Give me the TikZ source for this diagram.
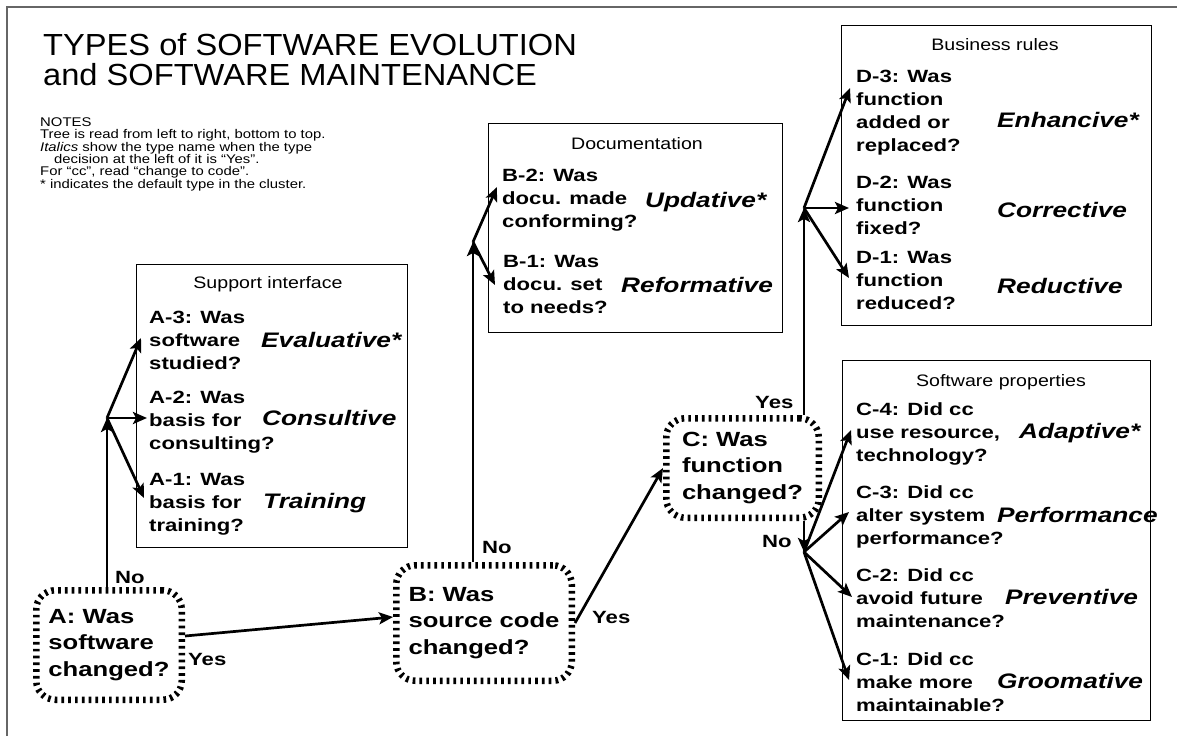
\documentclass[tikz,border=0pt]{standalone}
\usepackage{fontspec}
\setmainfont{Liberation Sans}
\newfontfamily\titlefont[FakeStretch=1.07]{Liberation Sans}
\newfontfamily\regfont[FakeStretch=1.18]{Liberation Sans}
\newfontfamily\boldfont[FakeStretch=1.25]{Liberation Sans}
\usetikzlibrary{arrows.meta,calc}
\tikzset{
  frameline/.style={line width=1.5pt, draw=black!60},
  titletext/.style={anchor=base west, align=left, inner sep=0pt, font=\titlefont\fontsize{30.5}{30}\selectfont},
  notetext/.style={anchor=base west, align=left, inner sep=0pt, font=\regfont\fontsize{12.6}{11.4}\selectfont},
  cluster/.style={draw, line width=1.3pt, anchor=north west, inner sep=0pt},
  clustertitle/.style={anchor=base, inner sep=0pt, font=\regfont\fontsize{16.6}{20}\selectfont},
  question/.style={anchor=base west, align=left, inner sep=0pt, font=\boldfont\bfseries\fontsize{17.7}{23.3}\selectfont},
  typename/.style={anchor=base west, inner sep=0pt, font=\boldfont\bfseries\itshape\fontsize{21}{25}\selectfont},
  decision/.style={draw, rounded corners=19pt, line width=6.5pt, dash pattern=on 2.7pt off 4.1pt, align=left, inner sep=0pt, font=\boldfont\bfseries\fontsize{20.5}{26.5}\selectfont},
  answer/.style={anchor=base west, inner sep=0pt, font=\boldfont\bfseries\fontsize{17.7}{20}\selectfont},
  arr/.style={line width=2.7pt, -{Stealth[length=14pt,width=12pt,inset=3pt]}},
}
\begin{document}
\begin{tikzpicture}[x=1pt,y=-1pt]
\useasboundingbox (0,0) rectangle (1177,736);
\coordinate (fb) at (7,736);
\coordinate (fc) at (7,7);
\coordinate (fr) at (1177,7);
\draw[frameline] (fb) -- (fc) -- (fr);

% multi-line nodes are placed by the baseline of their LAST line
\node[titletext] (title) at (43,85) {TYPES of SOFTWARE EVOLUTION\\and SOFTWARE MAINTENANCE};
\node[notetext] (notes) at (40,188) {NOTES\\
Tree is read from left to right, bottom to top.\\
\textit{Italics} show the type name when the type\\
\hspace*{14pt}decision at the left of it is “Yes”.\\
For “cc”, read “change to code”.\\
* indicates the default type in the cluster.};

% clusters
\node[cluster, minimum width=271pt, minimum height=283pt] (sup) at (136,264) {};
\node[clustertitle] (supT) at (268,288) {Support interface};
\node[cluster, minimum width=294pt, minimum height=209pt] (doc) at (488,123) {};
\node[clustertitle] (docT) at (637,149) {Documentation};
\node[cluster, minimum width=310pt, minimum height=300pt] (bus) at (841,25) {};
\node[clustertitle] (busT) at (995,50) {Business rules};
\node[cluster, minimum width=308pt, minimum height=360pt] (prop) at (842,360) {};
\node[clustertitle] (propT) at (1001,386) {Software properties};

% questions
\node[question] (a3) at (149,369.6) {A-3: Was\\software\\studied?};
\node[question] (a2) at (149,449.6) {A-2: Was\\basis for\\consulting?};
\node[question] (a1) at (149,531.6) {A-1: Was\\basis for\\training?};
\node[question] (b2) at (502,227.6) {B-2: Was\\docu. made\\conforming?};
\node[question] (b1) at (503,313.6) {B-1: Was\\docu. set\\to needs?};
\node[question] (d3) at (856,151.9) {D-3: Was\\function\\added or\\replaced?};
\node[question] (d2) at (856,234.6) {D-2: Was\\function\\fixed?};
\node[question] (d1) at (856,309.6) {D-1: Was\\function\\reduced?};
\node[question] (c4) at (856,461.6) {C-4: Did cc\\use resource,\\technology?};
\node[question] (c3) at (856,544.6) {C-3: Did cc\\alter system\\performance?};
\node[question] (c2) at (856,627.6) {C-2: Did cc\\avoid future\\maintenance?};
\node[question] (c1) at (856,711.6) {C-1: Did cc\\make more\\maintainable?};

% type names
\node[typename] (tEval) at (261,347) {Evaluative*};
\node[typename] (tCons) at (262,425) {Consultive};
\node[typename] (tTrain) at (263,508) {Training};
\node[typename] (tUpd) at (645,207) {Updative*};
\node[typename] (tRef) at (621,292) {Reformative};
\node[typename] (tEnh) at (997,127) {Enhancive*};
\node[typename] (tCorr) at (997,217) {Corrective};
\node[typename] (tRed) at (997,293) {Reductive};
\node[typename] (tAdap) at (1019,438) {Adaptive*};
\node[typename] (tPerf) at (997,522) {Performance};
\node[typename] (tPrev) at (1005,604) {Preventive};
\node[typename] (tGroom) at (997,688) {Groomative};

% decisions
\node[decision, minimum width=145.5pt, minimum height=109.5pt] (A) at (109,645) {A: Was\\software\\changed?};
\node[decision, minimum width=175.5pt, minimum height=115.5pt] (B) at (484,623) {B: Was\\source code\\changed?};
\node[decision, minimum width=152.5pt, minimum height=99.5pt] (C) at (742.5,468) {C: Was\\function\\changed?};

% branch points
\coordinate (brA) at (107,418);
\coordinate (brB) at (473,242);
\coordinate (brD) at (804,208);
\coordinate (brC) at (804,552);

% connectors
\draw[arr] (A.north -| brA) -- (brA);
\draw[arr] (brA) -- ($(a3.base west)+(-8,-31.6)$);
\draw[arr] (brA) -- ($(a2.base west)+(-2,-31.6)$);
\draw[arr] (brA) -- ($(a1.base west)+(-5,-33.6)$);

\draw[arr] ([yshift=9pt]A.east) -- ([yshift=6pt]B.west);

\draw[arr] (B.north -| brB) -- (brB);
\draw[arr] (brB) -- ($(b2.base west)+(-5,-40.6)$);
\draw[arr] (brB) -- ($(b1.base west)+(-8,-28.6)$);

\draw[arr] (B.east) -- (C.west);

\draw[arr] (C.north -| brD) -- (brD);
\draw[arr] (brD) -- ($(d3.base west)+(-6,-63.9)$);
\draw[arr] (brD) -- ($(d2.base west)+(-7,-26.6)$);
\draw[arr] (brD) -- ($(d1.base west)+(-7,-31.6)$);

\draw[arr] (C.south -| brC) -- (brC);
\draw[arr] (brC) -- ($(c4.base west)+(-5,-31.6)$);
\draw[arr] (brC) -- ($(c3.base west)+(-7,-32.6)$);
\draw[arr] (brC) -- ($(c2.base west)+(-4,-30.6)$);
\draw[arr] (brC) -- ($(c1.base west)+(-7,-31.6)$);

% answers
\node[answer] (noA) at (115,583) {No};
\node[answer] (yesA) at (188,665) {Yes};
\node[answer] (noB) at (482,553) {No};
\node[answer] (yesB) at (592,623) {Yes};
\node[answer] (yesC) at (755,408) {Yes};
\node[answer] (noC) at (762,547) {No};
\end{tikzpicture}
\end{document}
